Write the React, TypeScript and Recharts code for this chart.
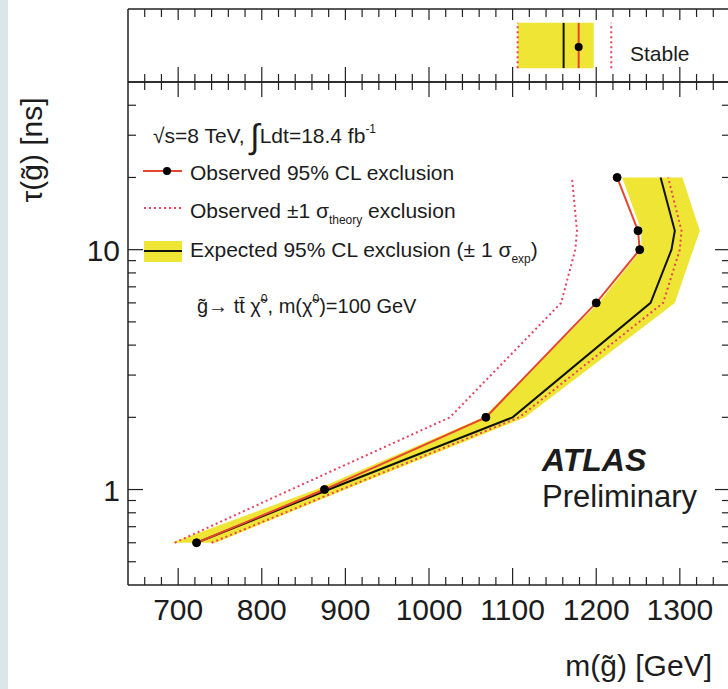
import React from 'react'
import { ComposedChart, Area, Line, XAxis, YAxis } from 'recharts'

// gluino lifetime points [ns] and the limits on m(gluino) [GeV]
const lifetimes = [0.6, 1, 2, 6, 10, 12, 20]
const observed = [722, 875, 1068, 1200, 1252, 1250, 1225]
const expected = [722, 880, 1100, 1265, 1290, 1294, 1277]
const expectedDown = [692, 865, 1065, 1203, 1254, 1254, 1231]
const expectedUp = [745, 900, 1115, 1294, 1316, 1324, 1303]
const theoryDown = [696, 835, 1025, 1158, 1175, 1177, 1171]
const theoryUp = [740, 895, 1108, 1280, 1300, 1302, 1286]

// stable gluino panel
const stableSpan = [0.19, 0.48, 0.81]
const stableObserved = 1179
const stableExpected = 1161
const stableExpDown = 1106
const stableExpUp = 1197
const stableTheoryDown = 1106
const stableTheoryUp = 1218

const massMajor = [700, 800, 900, 1000, 1100, 1200, 1300]
const massTicks = [
  660, 680, 700, 720, 740, 760, 780, 800, 820, 840, 860, 880, 900, 920, 940, 960, 980, 1000,
  1020, 1040, 1060, 1080, 1100, 1120, 1140, 1160, 1180, 1200, 1220, 1240, 1260, 1280, 1300,
  1320, 1340,
]
const tauMajor = [1, 10]
const tauTicks = [0.5, 0.6, 0.7, 0.8, 0.9, 1, 2, 3, 4, 5, 6, 7, 8, 9, 10, 20, 30, 40]

const mainData = lifetimes.map((tau, i) => ({
  tau,
  obs: observed[i],
  exp: expected[i],
  band: [expectedDown[i], expectedUp[i]],
  thDown: theoryDown[i],
  thUp: theoryUp[i],
}))

const stableData = stableSpan.map((pos, i) => ({
  pos,
  obs: stableObserved,
  exp: stableExpected,
  band: [stableExpDown, stableExpUp],
  thDown: stableTheoryDown,
  thUp: stableTheoryUp,
  marker: i === 1,
}))

const FONT = '"Liberation Sans", Arial, Helvetica, sans-serif'
const INK = '#1c1c1c'
const FRAME = '#222'
const YELLOW = '#efe535'
const RED = '#e5452f'
const PINK = '#e8415e'
const MASS_DOMAIN = [640, 1360]
const TAU_DOMAIN = [0.4, 50]

const axisLine = { stroke: FRAME, strokeWidth: 1.5 }

// x ticks: dir = -1 draws upward from the axis, +1 downward
function massTick(dir: number, majorLen: number, minorLen: number, labels: boolean) {
  return (props: any) => {
    const { x, y, payload } = props
    const major = massMajor.includes(payload.value)
    return (
      <g>
        <line x1={x} x2={x} y1={y} y2={y + dir * (major ? majorLen : minorLen)} stroke={FRAME} strokeWidth={1.2} />
        {labels && major && (
          <text x={x} y={y + 35} textAnchor="middle" fontSize={30} fill={INK} fontFamily={FONT}>
            {payload.value}
          </text>
        )}
      </g>
    )
  }
}

function tauTick(dir: number, labels: boolean) {
  return (props: any) => {
    const { x, y, payload } = props
    const major = tauMajor.includes(payload.value)
    return (
      <g>
        <line x1={x} x2={x + dir * (major ? 15 : 8)} y1={y} y2={y} stroke={FRAME} strokeWidth={1.2} />
        {labels && major && (
          <text x={x - 8} y={y + 11} textAnchor="end" fontSize={30} fill={INK} fontFamily={FONT}>
            {payload.value}
          </text>
        )}
      </g>
    )
  }
}

const StableDot = (props: any) => {
  const { cx, cy, payload } = props
  if (!payload.marker) return <g />
  return <circle cx={cx} cy={cy} r={4} fill="#000" />
}

function StablePanel() {
  return (
    <ComposedChart width={732} height={84} data={stableData} layout="vertical" margin={{ top: 0, right: 0, bottom: 0, left: 0 }}>
      <XAxis xAxisId="top" orientation="top" type="number" domain={MASS_DOMAIN} allowDataOverflow ticks={massTicks}
        interval={0} height={9} tickSize={0} tickMargin={0} tickLine={false} axisLine={axisLine} tick={massTick(1, 11, 8, false)} />
      <XAxis xAxisId="bottom" type="number" domain={MASS_DOMAIN} allowDataOverflow ticks={massTicks}
        interval={0} height={2} tickSize={0} tickMargin={0} tickLine={false} axisLine={axisLine} tick={massTick(-1, 15, 8, false)} />
      <YAxis yAxisId="left" type="number" dataKey="pos" domain={[0, 1]} reversed width={128} tick={false} tickLine={false} axisLine={axisLine} />
      <YAxis yAxisId="right" orientation="right" type="number" dataKey="pos" domain={[0, 1]} reversed width={2} tick={false} tickLine={false} axisLine={axisLine} />
      <Area xAxisId="bottom" yAxisId="left" dataKey="band" fill={YELLOW} fillOpacity={1} stroke="none" isAnimationActive={false} />
      <Line xAxisId="bottom" yAxisId="left" dataKey="thDown" stroke={PINK} strokeWidth={2} strokeDasharray="2 3" dot={false} isAnimationActive={false} />
      <Line xAxisId="bottom" yAxisId="left" dataKey="thUp" stroke={PINK} strokeWidth={2} strokeDasharray="2 3" dot={false} isAnimationActive={false} />
      <Line xAxisId="bottom" yAxisId="left" dataKey="exp" stroke="#111" strokeWidth={2} dot={false} isAnimationActive={false} />
      <Line xAxisId="bottom" yAxisId="left" dataKey="obs" stroke={RED} strokeWidth={2} dot={<StableDot />} isAnimationActive={false} />
    </ComposedChart>
  )
}

function LimitPanel() {
  return (
    <ComposedChart width={732} height={689} data={mainData} layout="vertical" margin={{ top: 80, right: 0, bottom: 0, left: 0 }}>
      <XAxis xAxisId="top" orientation="top" type="number" domain={MASS_DOMAIN} allowDataOverflow ticks={massTicks}
        interval={0} height={2} tickSize={0} tickMargin={0} tickLine={false} axisLine={axisLine} tick={massTick(1, 15, 8, false)} />
      <XAxis xAxisId="bottom" type="number" domain={MASS_DOMAIN} allowDataOverflow ticks={massTicks}
        interval={0} height={104} tickSize={0} tickMargin={0} tickLine={false} axisLine={axisLine} tick={massTick(-1, 17, 8, true)} />
      <YAxis yAxisId="left" type="number" dataKey="tau" scale="log" domain={TAU_DOMAIN} allowDataOverflow reversed
        ticks={tauTicks} interval={0} width={128} tickSize={0} tickMargin={0} tickLine={false} axisLine={axisLine} tick={tauTick(1, true)} />
      <YAxis yAxisId="right" orientation="right" type="number" dataKey="tau" scale="log" domain={TAU_DOMAIN} allowDataOverflow reversed
        ticks={tauTicks} interval={0} width={2} tickSize={0} tickMargin={0} tickLine={false} axisLine={axisLine} tick={tauTick(-1, false)} />
      <Area xAxisId="bottom" yAxisId="left" dataKey="band" type="linear" fill={YELLOW} fillOpacity={1} stroke="none" isAnimationActive={false} />
      <Line xAxisId="bottom" yAxisId="left" dataKey="thDown" type="linear" stroke={PINK} strokeWidth={2} strokeDasharray="2 3" dot={false} isAnimationActive={false} />
      <Line xAxisId="bottom" yAxisId="left" dataKey="thUp" type="linear" stroke={PINK} strokeWidth={2} strokeDasharray="2 3" dot={false} isAnimationActive={false} />
      <Line xAxisId="bottom" yAxisId="left" dataKey="exp" type="linear" stroke="#111" strokeWidth={2} dot={false} isAnimationActive={false} />
      <Line xAxisId="bottom" yAxisId="left" dataKey="obs" type="linear" stroke={RED} strokeWidth={2}
        dot={{ r: 4, fill: '#000', stroke: '#000', strokeWidth: 1 }} isAnimationActive={false} />
    </ComposedChart>
  )
}

export default function App() {
  return (
    <div style={{ position: 'absolute', left: 0, top: 0, width: 728, height: 689, overflow: 'hidden', background: '#fff', fontFamily: FONT }}>
      <div style={{ position: 'absolute', left: 0, top: 0, width: 8, height: 689, background: '#dce5e8' }} />
      <div style={{ position: 'absolute', left: 0, top: 0 }}>
        <StablePanel />
      </div>
      <div style={{ position: 'absolute', left: 0, top: 0 }}>
        <LimitPanel />
      </div>
      <svg width={728} height={689} style={{ position: 'absolute', left: 0, top: 0, pointerEvents: 'none' }} fontFamily={FONT} fill={INK}>
        <text transform="translate(42,150) rotate(-90)" textAnchor="middle" fontSize={30}>τ(g̃) [ns]</text>
        <text x={712} y={676} textAnchor="end" fontSize={30}>m(g̃) [GeV]</text>

        <text x={153} y={143} fontSize={21}>
          √s=8 TeV, <tspan fontSize={34} dy={5}>∫</tspan>
          <tspan dy={-5}>Ldt=18.4 fb</tspan>
          <tspan fontSize={12} dy={-10}>-1</tspan>
        </text>

        <line x1={143} x2={182} y1={171} y2={171} stroke={RED} strokeWidth={2} />
        <circle cx={167} cy={171} r={4} fill="#000" />
        <text x={190} y={180} fontSize={21}>Observed 95% CL exclusion</text>

        <line x1={144} x2={182} y1={208} y2={208} stroke={PINK} strokeWidth={2} strokeDasharray="2 3" />
        <text x={190} y={218} fontSize={21}>
          Observed ±1 σ<tspan fontSize={12} dy={6}>theory</tspan>
          <tspan dy={-6}> exclusion</tspan>
        </text>

        <rect x={144} y={241} width={38} height={21} fill={YELLOW} />
        <line x1={144} x2={182} y1={251} y2={251} stroke="#111" strokeWidth={2} />
        <text x={190} y={257} fontSize={21}>
          Expected 95% CL exclusion (± 1 σ<tspan fontSize={12} dy={6}>exp</tspan>
          <tspan dy={-6}>)</tspan>
        </text>

        <text x={197} y={313} fontSize={20}>
          g̃→ tt̄ χ̃<tspan fontSize={12} dy={-10}>0</tspan>
          <tspan dy={10}>, m(χ̃</tspan>
          <tspan fontSize={12} dy={-10}>0</tspan>
          <tspan dy={10}>)=100 GeV</tspan>
        </text>

        <text x={542} y={471} fontSize={32} fontWeight="bold" fontStyle="italic">ATLAS</text>
        <text x={542} y={507} fontSize={31}>Preliminary</text>
        <text x={630} y={61} fontSize={21}>Stable</text>
      </svg>
    </div>
  )
}
